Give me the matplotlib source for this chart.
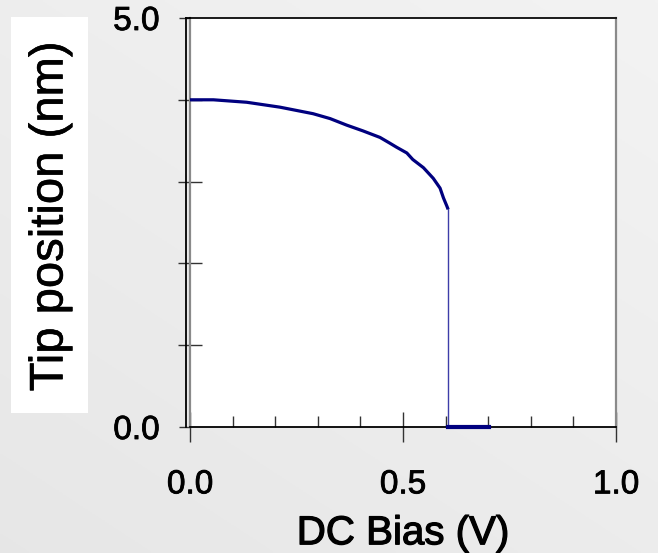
import numpy as np
import matplotlib
matplotlib.use("Agg")
import matplotlib.pyplot as plt
import matplotlib.patheffects as pe
from matplotlib.patches import Rectangle

# data
bias_curve = [0.0, 0.055, 0.133, 0.211, 0.289, 0.329, 0.368, 0.406, 0.446, 0.469,
              0.485, 0.509, 0.523, 0.548, 0.571, 0.587, 0.595, 0.603, 0.606]
tip_curve = [4.00, 4.00, 3.97, 3.91, 3.83, 3.77, 3.69, 3.62, 3.54, 3.47,
             3.42, 3.35, 3.27, 3.17, 3.04, 2.92, 2.80, 2.70, 2.66]
bias_jump = [0.606, 0.606]
tip_jump = [2.66, 0.0]
bias_flat = [0.606, 0.702]
tip_flat = [0.0, 0.0]

x_ticks = [0.0, 0.5, 1.0]
x_ticklabels = ["0.0", "0.5", "1.0"]
y_ticks = [0.0, 5.0]
y_ticklabels = ["0.0", "5.0"]

plt.rcParams['font.family'] = ['Liberation Sans', 'DejaVu Sans']

W, H = 658, 553
fig = plt.figure(figsize=(W / 100, H / 100), dpi=100)

# light gray gradient background
bg = fig.add_axes([0, 0, 1, 1], zorder=-10)
gy, gx = np.mgrid[0:1:200j, 0:1:200j]
grad = 0.905 + 0.027 * (1 - gy) + 0.021 * gx
bg.imshow(np.dstack([grad, grad, grad]), extent=[0, 1, 0, 1], aspect='auto', origin='upper')
bg.axis('off')

ax = fig.add_axes([190 / W, 1 - 427 / H, (616 - 190) / W, (427 - 18) / H])
ax.set_facecolor('white')
ax.set_xlim(0, 1.0)
ax.set_ylim(0, 5.0)

navy = '#00007f'
ax.plot(bias_curve, tip_curve, color=navy, lw=2.3, solid_capstyle='butt', clip_on=False, zorder=3)
ax.plot(bias_jump, tip_jump, color='#3d3da8', lw=1.0, clip_on=False, zorder=3)
ax.plot(bias_flat, tip_flat, color=navy, lw=3.0, clip_on=False, zorder=3)

# frame: gray left/right, black top/bottom, black outward y axis
for s in ['left', 'right']:
    ax.spines[s].set_color('#8a8a8a')
    ax.spines[s].set_linewidth(1.6)
ax.spines['top'].set_color('#1a1a1a')
ax.spines['top'].set_linewidth(1.4)
ax.spines['bottom'].set_color('black')
ax.spines['bottom'].set_linewidth(1.3)

off = -4 / 426
ax.plot([off, off], [0, 5.0], color='black', lw=1.3, clip_on=False, zorder=4)
ax.plot([off, 0], [5.0, 5.0], color='black', lw=1.3, clip_on=False, zorder=4)

ax.set_xticks(x_ticks)
ax.set_xticklabels(x_ticklabels)
ax.set_xticks(np.arange(0.1, 1.0, 0.1), minor=True)
ax.tick_params(axis='x', which='major', direction='inout', length=21, width=1.0,
               color='#333333', pad=20, labelsize=24)
ax.tick_params(axis='x', which='minor', direction='in', length=8, width=1.0, color='#333333')

ax.set_yticks(y_ticks)
ax.set_yticklabels(y_ticklabels)
ax.set_yticks([1, 2, 3, 4], minor=True)
ax.tick_params(axis='y', which='major', direction='out', length=8, width=1.0,
               color='#333333', pad=14, labelsize=24)
ax.tick_params(axis='y', which='minor', direction='inout', length=17, width=1.0, color='#333333')

thick_small = [pe.withStroke(linewidth=0.6, foreground='black')]
thick_big = [pe.withStroke(linewidth=0.9, foreground='black')]
for lbl in ax.get_xticklabels() + ax.get_yticklabels():
    lbl.set_path_effects(thick_small)

xl = ax.set_xlabel('DC Bias (V)', fontsize=29, labelpad=10)
xl.set_path_effects(thick_big)

fig.patches.append(Rectangle((11 / W, 1 - 412.7 / H), 77 / W, 396 / H,
                             transform=fig.transFigure, facecolor='white',
                             edgecolor='none', zorder=1))
yl = fig.text(50.5 / W, 1 - 216.5 / H, 'Tip position (nm)', rotation=90, fontsize=34,
              ha='center', va='center', zorder=2)
yl.set_path_effects([pe.withStroke(linewidth=0.4, foreground='black')])

fig.savefig('out.png', dpi=100)
